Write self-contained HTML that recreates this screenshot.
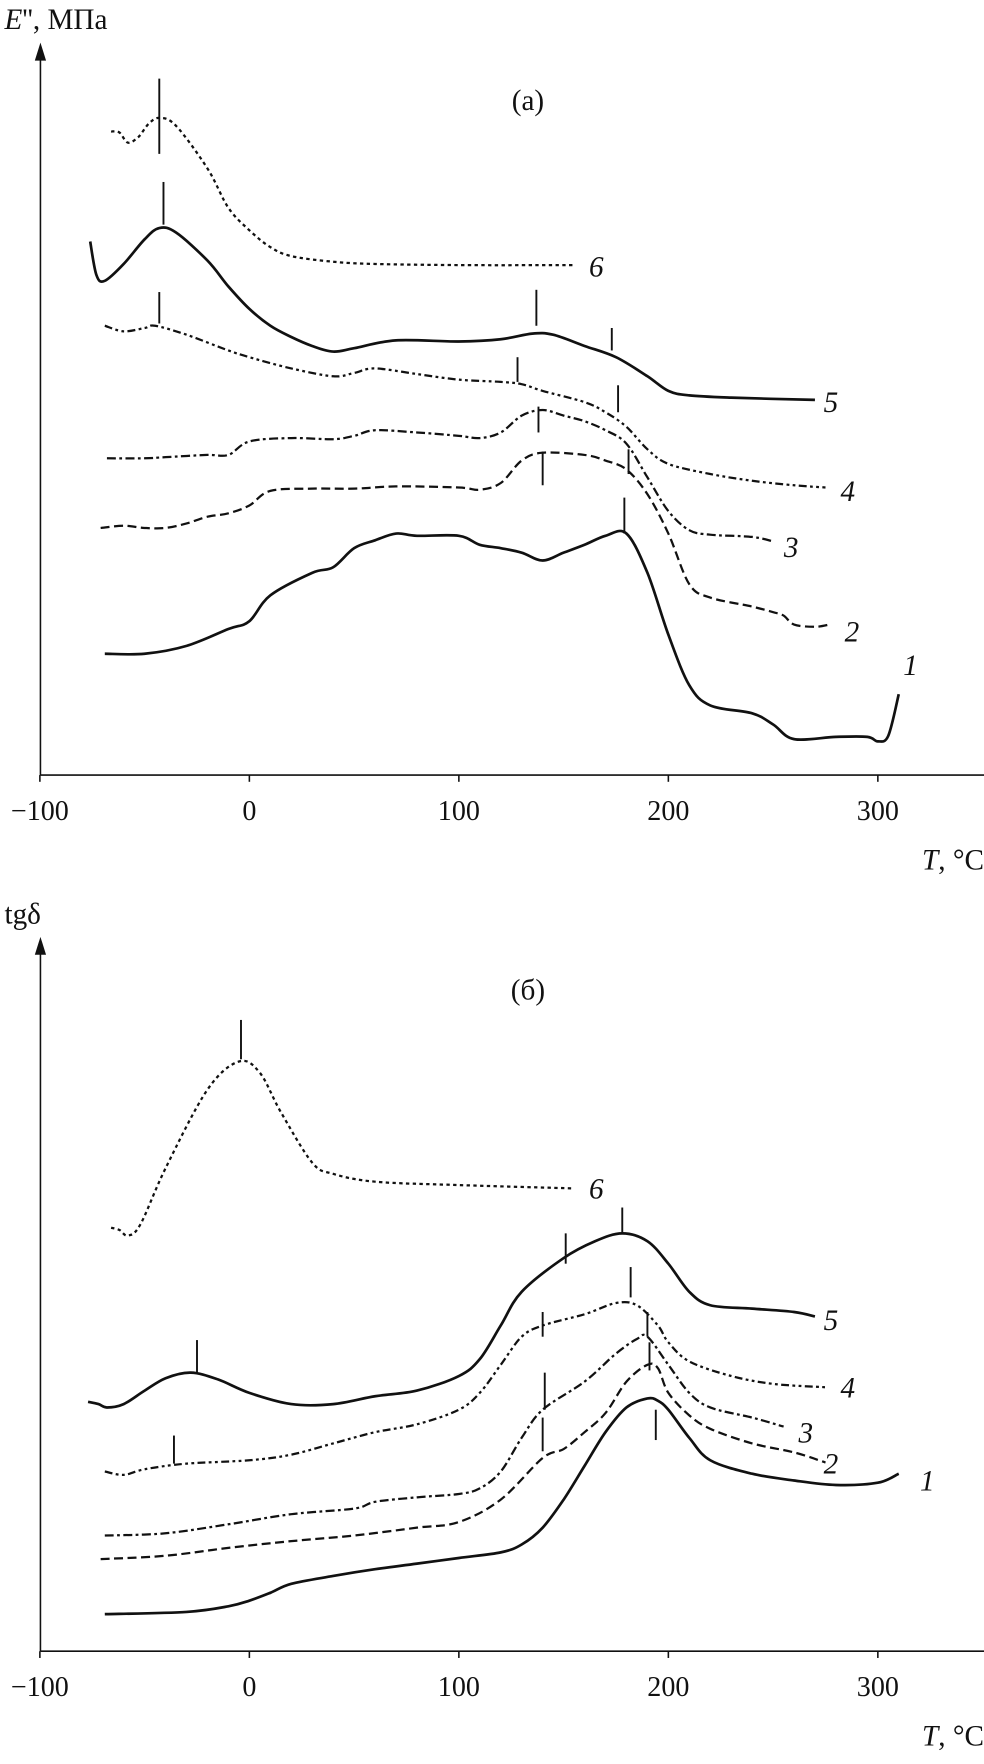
<!DOCTYPE html>
<html><head><meta charset="utf-8"><style>
html,body{margin:0;padding:0;background:#fff}
svg{display:block}
text{font-family:"Liberation Serif","DejaVu Serif",serif;fill:#111}
</style></head><body>
<svg id="chart" width="984" height="1764" viewBox="0 0 876 1570.4" preserveAspectRatio="none" xmlns="http://www.w3.org/2000/svg"></svg>
<script>
// x ticks
const xTicks=[-100,0,100,200,300];
const xTickLabels=["−100","0","100","200","300"];
// Panel (a) E'' curves: [T, value]
const a1=[[-69,10.8],[-50,10.8],[-30,11.5],[-10,13],[0,13.7],[10,16],[30,18],[40,18.5],[50,20.2],[60,20.9],[70,21.5],[80,21.3],[100,21.3],[110,20.5],[120,20.2],[130,19.8],[140,19.1],[150,19.8],[160,20.5],[170,21.3],[180,21.5],[190,18],[200,12.5],[210,8],[220,6.2],[240,5.5],[250,4.5],[260,3.2],[280,3.4],[295,3.4],[300,3],[305,3.5],[310,7.2]];
const a2=[[-71,22],[-60,22.2],[-50,22],[-40,22],[-30,22.4],[-20,23],[-10,23.3],[0,24],[10,25.3],[30,25.5],[50,25.5],[70,25.7],[100,25.6],[110,25.4],[120,26],[130,28],[140,28.7],[160,28.5],[170,28],[180,27.2],[190,25],[200,21.5],[210,17],[220,15.8],[240,15],[250,14.5],[255,14.2],[260,13.4],[270,13.2],[277,13.4]];
const a3=[[-68,28.2],[-50,28.2],[-40,28.3],[-20,28.5],[-10,28.5],[0,29.7],[20,30],[40,29.9],[50,30.2],[60,30.7],[80,30.5],[100,30.2],[110,30],[120,30.5],[130,32],[140,32.5],[150,32],[160,31.5],[170,30.7],[180,29.5],[190,26.5],[200,23.5],[210,21.8],[220,21.4],[240,21.2],[250,20.8]];
const a4=[[-69,40],[-60,39.5],[-50,39.8],[-45,40],[-30,39.2],[-10,37.8],[0,37.2],[20,36.2],[40,35.5],[50,35.8],[60,36.2],[80,35.7],[100,35.2],[120,35],[130,34.8],[140,34.2],[160,33.2],[170,32.3],[180,31],[190,29],[200,27.7],[220,26.8],[240,26.2],[260,25.8],[275,25.6]];
const a5=[[-76,47.5],[-73,44.5],[-69,44],[-60,45.5],[-50,47.7],[-43,48.7],[-35,48.3],[-20,45.8],[-10,43.5],[0,41.5],[10,40],[20,39],[30,38.2],[40,37.7],[50,38],[70,38.7],[100,38.6],[120,38.8],[135,39.3],[145,39.2],[160,38.2],[175,37.2],[190,35.5],[200,34.2],[210,33.8],[230,33.6],[270,33.4]];
const a6=[[-66,57.3],[-62,57.2],[-58,56.3],[-53,56.8],[-48,58],[-43,58.5],[-35,57.8],[-20,54],[-10,50.5],[0,48.5],[10,47],[20,46.2],[40,45.7],[60,45.5],[100,45.4],[155,45.4]];
// markers [T, low, high]
const aMarks=[[-43,55.3,62],[-41,49,52.8],[137,40,43.2],[173,37.8,39.8],[-43,40.2,43],[128,35,37.2],[176,32.3,34.7],[138,30.5,32.8],[181,26.8,29],[140,25.8,28.8],[179,21.5,24.7]];
const aLabelPos=[[310,9.8,"1"],[282,12.8,"2"],[253,20.3,"3"],[280,25.3,"4"],[272,33.2,"5"],[160,45.3,"6"]];
// Panel (б) tg delta curves
const b1=[[-69,3.3],[-30,3.5],[-10,4],[0,4.5],[10,5.2],[20,6],[40,6.7],[60,7.3],[80,7.8],[100,8.3],[120,8.8],[130,9.5],[140,11],[150,13.5],[160,16.5],[170,19.5],[180,21.7],[190,22.5],[195,22.3],[200,21.5],[210,19],[220,17],[240,15.8],[260,15.2],[280,14.8],[300,15],[310,15.8]];
const b2=[[-71,8.2],[-40,8.5],[-10,9.2],[20,9.8],[50,10.3],[80,11],[100,11.5],[120,13.5],[140,17.2],[150,18],[160,19.5],[170,21.2],[180,24],[190,25.5],[195,25.2],[200,23],[210,21],[220,19.8],[240,18.5],[260,17.7],[275,16.8]];
const b3=[[-69,10.3],[-40,10.5],[-10,11.3],[20,12.2],[50,12.7],[60,13.3],[80,13.7],[100,14],[110,14.5],[120,16],[130,19],[140,21.5],[160,24],[175,26.5],[185,27.8],[190,28],[200,25.5],[210,23],[220,21.7],[240,20.8],[255,20]];
const b4=[[-69,16],[-60,15.7],[-50,16.2],[-30,16.7],[0,17],[20,17.5],[40,18.5],[60,19.5],[80,20.2],[100,21.5],[110,23],[120,25.5],[130,28],[140,29],[160,30],[175,31],[185,30.8],[195,29],[200,27.5],[210,25.8],[230,24.5],[250,23.8],[275,23.5]];
const b5=[[-77,22.2],[-72,22],[-68,21.7],[-60,22],[-50,23.2],[-40,24.3],[-28,24.8],[-15,24.2],[0,23],[20,22],[40,22],[60,22.7],[80,23.2],[100,24.5],[110,26],[120,29],[130,32],[150,35],[165,36.5],[178,37.2],[190,36.5],[200,34.5],[210,32],[220,30.8],[240,30.5],[260,30.2],[270,29.8]];
const b6=[[-66,37.7],[-62,37.5],[-58,37],[-52,38],[-40,43],[-20,50],[-5,52.5],[5,51.5],[15,48],[30,43.5],[40,42.5],[60,41.8],[100,41.5],[155,41.2]];
const bMarks=[[-4,52.7,56.2],[-25,24.8,27.7],[151,34.5,37.2],[178,37.2,39.5],[-36,16.7,19.2],[140,28,30.2],[182,31.5,34.2],[141,21.5,24.8],[190,28,30.2],[140,17.8,20.8],[191,25,27.5],[194,18.8,21.5]];
const bLabelPos=[[318,15.2,"1"],[272,16.7,"2"],[260,19.5,"3"],[280,23.5,"4"],[272,29.5,"5"],[160,41.2,"6"]];

const styles=[{w:2.4,d:""},{w:2,d:"8,4"},{w:2,d:"8,3,2.5,3"},{w:2,d:"7,3,2.5,3,2.5,3"},{w:2.4,d:""},{w:2,d:"3,3"}];
const NS="http://www.w3.org/2000/svg";
const svg=document.getElementById('chart');
const xs=T=>222+1.865*T;
function mk(tag,attrs){const e=document.createElementNS(NS,tag);for(const k in attrs)e.setAttribute(k,attrs[k]);svg.appendChild(e);return e;}
function smooth(p){let d="M"+p[0][0].toFixed(1)+","+p[0][1].toFixed(1);
 for(let i=0;i<p.length-1;i++){const p0=p[i-1]||p[i],p1=p[i],p2=p[i+1],p3=p[i+2]||p2;
  const c1=[p1[0]+(p2[0]-p0[0])/6,p1[1]+(p2[1]-p0[1])/6],c2=[p2[0]-(p3[0]-p1[0])/6,p2[1]-(p3[1]-p1[1])/6];
  d+=" C"+c1[0].toFixed(1)+","+c1[1].toFixed(1)+" "+c2[0].toFixed(1)+","+c2[1].toFixed(1)+" "+p2[0].toFixed(1)+","+p2[1].toFixed(1);}
 return d;}
function panel(id,axisY,topY,curves,marks,labels,title,titleY,ylab){
 const ys=v=>axisY-v*10;
 let e=mk('line',{x1:36,y1:axisY,x2:876,y2:axisY,stroke:'#111','stroke-width':1.4});
 
 
 e=mk('line',{x1:36,y1:axisY,x2:36,y2:topY+12,stroke:'#111','stroke-width':1.4});
 
 
 e=mk('path',{d:`M36,${topY} L31,${topY+16} L41,${topY+16} Z`,fill:'#111'});
 
 
 xTicks.forEach((t,i)=>{
  e=mk('line',{x1:xs(t),y1:axisY,x2:xs(t),y2:axisY+6,stroke:'#111','stroke-width':1.4});
  
  
  e=mk('text',{x:xs(t),y:axisY+40,'font-size':25,'text-anchor':'middle'});e.textContent=xTickLabels[i];
  
  
 });
 e=mk('text',{x:876,y:axisY+84,'font-size':26,'text-anchor':'end'});
 e.innerHTML='<tspan font-style="italic">T</tspan>, °C';
 
 
 e=mk('text',{x:ylab[1],y:topY-12,'font-size':26});e.innerHTML=ylab[0];
 
 
 e=mk('text',{x:470,y:titleY,'font-size':26,'text-anchor':'middle'});e.textContent=title;
 
 
 curves.forEach((c,i)=>{
  const pts=c.map(p=>[xs(p[0]),ys(p[1])]);
  e=mk('path',{d:smooth(pts),fill:'none',stroke:'#111','stroke-width':styles[i].w,'stroke-dasharray':styles[i].d,'stroke-linejoin':'round'});
  
  
 });
 marks.forEach(m=>{
  e=mk('line',{x1:xs(m[0]),y1:ys(m[1]),x2:xs(m[0]),y2:ys(m[2]),stroke:'#111','stroke-width':1.7});
  
  
 });
 labels.forEach(l=>{
  e=mk('text',{x:xs(l[0])+4,y:ys(l[1])+9,'font-size':26,'font-style':'italic'});e.textContent=l[2];
  
  
 });
}
panel('panel-a',690,38,[a1,a2,a3,a4,a5,a6],aMarks,aLabelPos,'(а)',98,['<tspan font-style="italic">E</tspan>'+"'', МПа",4]);
panel('panel-b',1470,834,[b1,b2,b3,b4,b5,b6],bMarks,bLabelPos,'(б)',890,['tgδ',4]);
</script>
</body></html>
